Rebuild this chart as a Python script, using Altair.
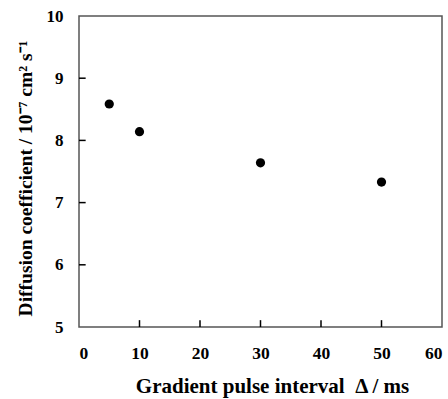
import altair as alt
import pandas as pd

delta_ms = [5, 10, 30, 50]
diff_coef = [8.585, 8.14, 7.64, 7.33]

x_ticks = [10, 20, 30, 40, 50]
y_ticks = [6, 7, 8, 9]

FONT = "Liberation Serif"

pts = pd.DataFrame({"x": delta_ms, "y": diff_coef})
xt = pd.DataFrame({"tx": x_ticks, "ta": [5.0] * len(x_ticks), "tb": [5.11] * len(x_ticks)})
yt = pd.DataFrame({"ty": y_ticks, "sa": [0.0] * len(y_ticks), "sb": [1.1] * len(y_ticks)})

xscale = alt.Scale(domain=[0, 60], nice=False, zero=False)
yscale = alt.Scale(domain=[5, 10], nice=False, zero=False)

xaxis = alt.Axis(values=[0, 10, 20, 30, 40, 50, 60], tickSize=0, domain=False, grid=False,
                 format="d",
                 labelFont=FONT, labelFontWeight="bold", labelFontSize=17.5, labelColor="black",
                 labelPadding=17, title="Gradient pulse interval \u00a0Δ / ms",
                 titleFont=FONT, titleFontWeight="bold", titleFontSize=21, titleColor="black",
                 titlePadding=14, titleX=193)
yaxis = alt.Axis(values=[5, 6, 7, 8, 9, 10], tickSize=0, domain=False, grid=False,
                 format="d",
                 labelFont=FONT, labelFontWeight="bold", labelFontSize=17, labelColor="black",
                 labelPadding=16, title="Diffusion coefficient / 10⁻⁷ cm² s⁻¹",
                 titleFont=FONT, titleFontWeight="bold", titleFontSize=19.5, titleColor="black",
                 titlePadding=11, titleY=162)

points = alt.Chart(pts).mark_circle(size=85, color="black", opacity=1).encode(
    x=alt.X("x:Q", scale=xscale, axis=xaxis),
    y=alt.Y("y:Q", scale=yscale, axis=yaxis),
)

xt_rule = alt.Chart(xt).mark_rule(color="black", strokeWidth=1.5).encode(
    x=alt.X("tx:Q", scale=xscale),
    y=alt.Y("ta:Q", scale=yscale),
    y2=alt.Y2("tb"),
)
yt_rule = alt.Chart(yt).mark_rule(color="black", strokeWidth=1.5).encode(
    y=alt.Y("ty:Q", scale=yscale),
    x=alt.X("sa:Q", scale=xscale),
    x2=alt.X2("sb"),
)

chart = alt.layer(xt_rule, yt_rule, points).properties(
    width=363, height=311,
    background="white",
    autosize=alt.AutoSizeParams(type="none"),
    padding={"left": 79, "top": 16, "right": 6, "bottom": 72},
).configure_view(stroke="#555555", strokeWidth=1.5)

chart.save("out.html", embed_options={"renderer": "svg", "actions": False})
